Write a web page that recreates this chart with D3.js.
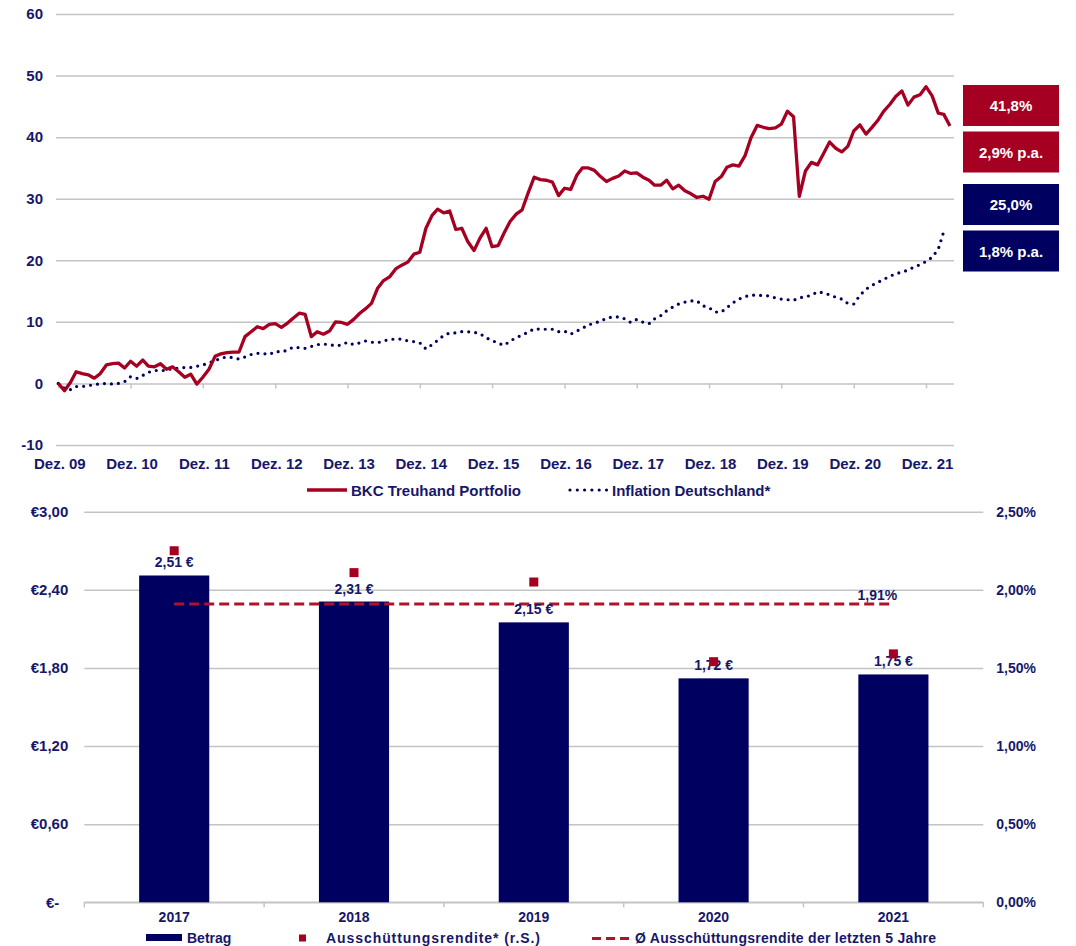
<!DOCTYPE html>
<html>
<head>
<meta charset="utf-8">
<script src="https://cdn.jsdelivr.net/npm/d3@7"></script>
<style>
body { margin: 0; background: #fff; }
text { font-family: "Liberation Sans", Arial, sans-serif; font-weight: bold; }
</style>
</head>
<body>
<svg id="chart" width="1076" height="946"></svg>
<script>
//data - top chart (monthly index values from Dez. 09)
const startMonth = "2009-12";
const portfolio = [
    0, -1.2, 0.2, 1.9, 1.6, 1.4, 0.85, 1.6, 3.0, 3.2, 3.3, 2.5,
    3.6, 2.8, 3.8, 2.8, 2.7, 3.2, 2.3, 2.7, 1.9, 1.0, 1.5, -0.1,
    1.0, 2.3, 4.4, 4.8, 5.0, 5.1, 5.1, 7.6, 8.4, 9.2, 8.9, 9.6,
    9.7, 9.1, 9.8, 10.6, 11.4, 11.2, 7.6, 8.4, 8.0, 8.5, 10.0, 9.9,
    9.6, 10.4, 11.4, 12.1, 13.0, 15.4, 16.7, 17.3, 18.6, 19.2, 19.7, 21.0,
    21.3, 25.2, 27.3, 28.3, 27.7, 28.0, 25.0, 25.2, 23.0, 21.6, 23.6, 25.2,
    22.2, 22.4, 24.5, 26.3, 27.5, 28.2, 31.0, 33.5, 33.1, 33.0, 32.7, 30.5,
    31.7, 31.5, 33.8, 35.0, 35.0, 34.6, 33.6, 32.8, 33.3, 33.7, 34.5, 34.1,
    34.2, 33.5, 33.0, 32.2, 32.2, 33.0, 31.6, 32.2, 31.3, 30.8, 30.2, 30.4,
    29.9, 32.8, 33.6, 35.1, 35.5, 35.3, 37.0, 39.9, 41.9, 41.6, 41.4, 41.5,
    42.1, 44.2, 43.3, 30.4, 34.5, 35.9, 35.5, 37.3, 39.2, 38.2, 37.6, 38.5,
    41.0, 42.0, 40.5, 41.5, 42.7, 44.2, 45.3, 46.6, 47.5, 45.2, 46.5, 46.9,
    48.2, 46.7, 43.9, 43.7, 41.8
];
const inflation = [
    0, -0.8, -1.0, -0.5, -0.5, -0.35, -0.2, -0.05, 0, -0.1, 0, 0.3,
    1.1, 0.8, 1.3, 1.8, 2.1, 2.1, 2.1, 2.45, 2.45, 2.6, 2.6, 2.8,
    3.0, 3.35, 3.7, 4.1, 4.3, 4.2, 3.95, 4.3, 4.7, 4.9, 4.85, 4.7,
    5.2, 5.1, 5.4, 5.9, 5.8, 5.7, 6.0, 6.3, 6.4, 6.3, 6.1, 6.25,
    6.7, 6.3, 6.6, 6.9, 6.7, 6.6, 6.9, 7.15, 7.2, 7.2, 6.9, 6.8,
    6.6, 5.6, 6.3, 7.0, 7.8, 8.2, 8.2, 8.4, 8.4, 8.3, 8.1, 7.4,
    7.0, 6.5, 6.2, 6.9, 7.4, 7.9, 8.3, 8.9, 8.8, 8.8, 8.8, 8.4,
    8.5, 8.0, 8.5, 8.95, 9.5, 9.8, 10.1, 10.6, 10.8, 10.8, 10.5, 9.9,
    10.4, 9.95, 9.7, 10.5, 11.0, 11.8, 12.4, 12.9, 13.2, 13.4, 13.4, 12.6,
    12.3, 11.6, 11.6, 12.3, 13.1, 13.7, 14.1, 14.35, 14.3, 14.3, 14.2, 13.9,
    13.7, 13.6, 13.5, 13.9, 14.1, 14.3, 14.9, 14.7, 14.4, 14.0, 13.7, 13.0,
    12.9, 14.3, 15.3, 15.9, 16.4, 16.9, 17.4, 17.8, 18.1, 18.4, 18.9, 19.3,
    19.8, 20.5, 21.8, 24.7
];
const yearTicks = ["2009-12", "2010-12", "2011-12", "2012-12", "2013-12", "2014-12", "2015-12",
    "2016-12", "2017-12", "2018-12", "2019-12", "2020-12", "2021-12"];
const yearLabels = ["Dez. 09", "Dez. 10", "Dez. 11", "Dez. 12", "Dez. 13", "Dez. 14", "Dez. 15",
    "Dez. 16", "Dez. 17", "Dez. 18", "Dez. 19", "Dez. 20", "Dez. 21"];
const topTicks = [-10, 0, 10, 20, 30, 40, 50, 60];
const boxLabels = ["41,8%", "2,9% p.a.", "25,0%", "1,8% p.a."];

//data - bottom chart
const years = ["2017", "2018", "2019", "2020", "2021"];
const betrag = [2.51, 2.31, 2.15, 1.72, 1.75];
const betragLabels = ["2,51 €", "2,31 €", "2,15 €", "1,72 €", "1,75 €"];
const rendite = [2.25, 2.11, 2.05, 1.54, 1.59];
const avgRendite = 1.91;
const avgLabel = "1,91%";
const euroTicks = [0, 0.6, 1.2, 1.8, 2.4, 3.0];
const euroLabels = ["€-", "€0,60", "€1,20", "€1,80", "€2,40", "€3,00"];
const pctTicks = [0, 0.5, 1.0, 1.5, 2.0, 2.5];
const pctLabels = ["0,00%", "0,50%", "1,00%", "1,50%", "2,00%", "2,50%"];

//colors
const red = "#a50021";
const navy = "#000060";
const textNavy = "#17176a";
const grid = "#c4c4c4";

const svg = d3.select("#chart")
    .style("background-color", "#fff");

const parse = d3.timeParse("%Y-%m");
const months = d3.timeMonth.range(parse(startMonth), d3.timeMonth.offset(parse(startMonth), portfolio.length));

function styleAxis(g, size) {
    g.select(".domain").remove();
    g.selectAll(".tick line").attr("stroke", grid).attr("stroke-width", 1.5);
    g.selectAll(".tick text")
        .attr("fill", textNavy)
        .style("font-size", size + "px")
        .style("font-family", "'Liberation Sans', Arial, sans-serif")
        .style("font-weight", "bold");
}

//top chart scales
const xT = d3.scaleTime()
    .domain([parse("2009-12"), parse("2021-12")])
    .range([58.3, 926]);
const yT = d3.scaleLinear()
    .domain([-10, 60])
    .range([445, 14]);
const topLeft = 56, topRight = 954;

//gridlines + y labels
svg.append("g")
    .attr("transform", "translate(" + topLeft + ",0)")
    .call(d3.axisLeft(yT).tickValues(topTicks).tickSize(-(topRight - topLeft)).tickPadding(13)
        .tickFormat(d => String(d)))
    .call(g => styleAxis(g, 15));

//x ticks on the zero line
svg.append("g")
    .attr("transform", "translate(0," + yT(0) + ")")
    .call(d3.axisBottom(xT).tickValues(yearTicks.map(parse)).tickSize(5).tickFormat(""))
    .call(g => styleAxis(g, 15));

//x labels below the plot
svg.append("g")
    .attr("transform", "translate(1," + yT(-10) + ")")
    .call(d3.axisBottom(xT).tickValues(yearTicks.map(parse)).tickSize(0).tickPadding(13)
        .tickFormat((d, i) => yearLabels[i]))
    .call(g => styleAxis(g, 15));

//lines
svg.append("path")
    .datum(inflation)
    .attr("fill", "none")
    .attr("stroke", navy)
    .attr("stroke-width", 3.2)
    .attr("stroke-linecap", "round")
    .attr("stroke-dasharray", "0,7")
    .attr("d", d3.line()
        .x((d, i) => xT(months[i]))
        .y(d => yT(d)));

svg.append("path")
    .datum(portfolio)
    .attr("fill", "none")
    .attr("stroke", red)
    .attr("stroke-width", 3.3)
    .attr("stroke-linejoin", "round")
    .attr("d", d3.line()
        .x((d, i) => xT(months[i]))
        .y(d => yT(d)));

//result boxes
const boxY = [85, 131.5, 184, 230.5];
const boxColor = [red, red, navy, navy];
const boxes = svg.append("g").selectAll("g")
    .data(boxLabels)
    .join("g")
    .attr("transform", (d, i) => "translate(963," + boxY[i] + ")");
boxes.append("rect")
    .attr("width", 96)
    .attr("height", 41)
    .attr("fill", (d, i) => boxColor[i]);
boxes.append("text")
    .attr("x", 48)
    .attr("y", 26)
    .attr("text-anchor", "middle")
    .attr("fill", "#fff")
    .style("font-size", "15px")
    .text(d => d);

//top legend
const leg1 = svg.append("g").attr("transform", "translate(0,490)");
leg1.append("line")
    .attr("x1", 307).attr("x2", 347)
    .attr("stroke", red).attr("stroke-width", 3.3);
leg1.append("text")
    .attr("x", 351).attr("y", 5.5)
    .attr("fill", textNavy)
    .style("font-size", "15px")
    .text("BKC Treuhand Portfolio");
leg1.append("line")
    .attr("x1", 570).attr("x2", 607)
    .attr("stroke", navy).attr("stroke-width", 3.2)
    .attr("stroke-linecap", "round")
    .attr("stroke-dasharray", "0,7.3");
leg1.append("text")
    .attr("x", 612).attr("y", 5.5)
    .attr("fill", textNavy)
    .style("font-size", "15px")
    .text("Inflation Deutschland*");

//bottom chart scales
const botLeft = 84.3, botRight = 983.3;
const xB = d3.scaleBand()
    .domain(years)
    .range([botLeft, botRight])
    .paddingInner(0.61)
    .paddingOuter(0.305);
const yL = d3.scaleLinear().domain([0, 3]).range([902.3, 511.7]);
const yR = d3.scaleLinear().domain([0, 2.5]).range([902.3, 511.7]);

//gridlines + left labels
svg.append("g")
    .attr("transform", "translate(" + botLeft + ",0)")
    .call(d3.axisLeft(yL).tickValues(euroTicks).tickSize(-(botRight - botLeft)).tickPadding(16)
        .tickFormat((d, i) => euroLabels[i]))
    .call(g => styleAxis(g, 15))
    .call(g => g.selectAll(".tick text").filter(d => d === 0).attr("dx", -9));

//right labels
svg.append("g")
    .attr("transform", "translate(" + botRight + ",0)")
    .call(d3.axisRight(yR).tickValues(pctTicks).tickSize(0).tickPadding(13)
        .tickFormat((d, i) => pctLabels[i]))
    .call(g => styleAxis(g, 14));

//category axis
const step = xB.step();
const xAxisB = svg.append("g").attr("transform", "translate(0," + yL(0) + ")");
xAxisB.append("line")
    .attr("x1", botLeft).attr("x2", botRight)
    .attr("stroke", grid).attr("stroke-width", 1.5);
xAxisB.selectAll(".bt")
    .data(d3.range(years.length + 1))
    .join("line")
    .attr("x1", i => botLeft + i * step).attr("x2", i => botLeft + i * step)
    .attr("y1", 0).attr("y2", 5)
    .attr("stroke", grid).attr("stroke-width", 1.5);
xAxisB.selectAll("text")
    .data(years)
    .join("text")
    .attr("x", d => xB(d) + xB.bandwidth() / 2)
    .attr("y", 20)
    .attr("text-anchor", "middle")
    .attr("fill", textNavy)
    .style("font-size", "14px")
    .text(d => d);

//bars
svg.append("g").selectAll("rect")
    .data(betrag)
    .join("rect")
    .attr("x", (d, i) => xB(years[i]))
    .attr("y", d => yL(d))
    .attr("width", xB.bandwidth())
    .attr("height", d => yL(0) - yL(d))
    .attr("fill", navy);

//average line
const avgX1 = xB(years[0]) + xB.bandwidth() / 2;
const avgX2 = xB(years[years.length - 1]) + xB.bandwidth() / 2 - 4;
svg.append("line")
    .attr("x1", avgX1).attr("x2", avgX2)
    .attr("y1", yR(avgRendite)).attr("y2", yR(avgRendite))
    .attr("stroke", "#b0122c")
    .attr("stroke-width", 3)
    .attr("stroke-dasharray", "10,5");
svg.append("text")
    .attr("x", avgX2 - 12)
    .attr("y", yR(avgRendite) - 4)
    .attr("text-anchor", "middle")
    .attr("fill", textNavy)
    .style("font-size", "14px")
    .text(avgLabel);

//bar labels
svg.append("g").selectAll("text")
    .data(betrag)
    .join("text")
    .attr("x", (d, i) => xB(years[i]) + xB.bandwidth() / 2)
    .attr("y", d => yL(d) - 8)
    .attr("text-anchor", "middle")
    .attr("fill", textNavy)
    .style("font-size", "14px")
    .text((d, i) => betragLabels[i]);

//yield markers
svg.append("g").selectAll("rect")
    .data(rendite)
    .join("rect")
    .attr("x", (d, i) => xB(years[i]) + xB.bandwidth() / 2 - 4.5)
    .attr("y", d => yR(d) - 4.5)
    .attr("width", 9)
    .attr("height", 9)
    .attr("fill", red);

//bottom legend
const leg2 = svg.append("g").attr("transform", "translate(0,937.5)");
leg2.append("rect")
    .attr("x", 146).attr("y", -3.5).attr("width", 36).attr("height", 7)
    .attr("fill", navy);
leg2.append("text")
    .attr("x", 187).attr("y", 5.5)
    .attr("fill", textNavy)
    .style("font-size", "14px")
    .text("Betrag");
leg2.append("rect")
    .attr("x", 299).attr("y", -3).attr("width", 7).attr("height", 7)
    .attr("fill", red);
leg2.append("text")
    .attr("x", 326).attr("y", 5.5)
    .attr("fill", textNavy)
    .style("font-size", "14px")
    .attr("textLength", 214)
    .attr("lengthAdjust", "spacing")
    .text("Ausschüttungsrendite* (r.S.)");
leg2.append("line")
    .attr("x1", 592).attr("x2", 630)
    .attr("y1", 1).attr("y2", 1)
    .attr("stroke", "#b0122c").attr("stroke-width", 3)
    .attr("stroke-dasharray", "9,5");
leg2.append("text")
    .attr("x", 635).attr("y", 5.5)
    .attr("fill", textNavy)
    .style("font-size", "14px")
    .attr("textLength", 301)
    .attr("lengthAdjust", "spacing")
    .text("Ø Ausschüttungsrendite der letzten 5 Jahre");
</script>
</body>
</html>
